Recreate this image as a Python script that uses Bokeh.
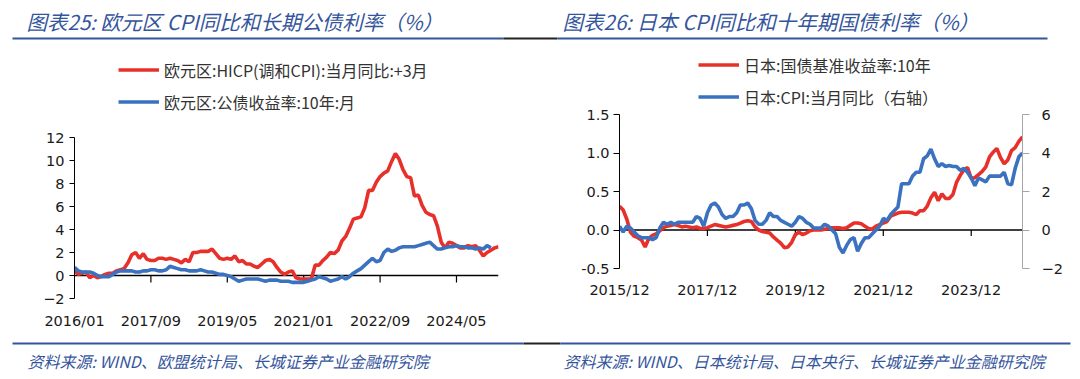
from bokeh.plotting import figure
from bokeh.models import Range1d, LinearAxis, FixedTicker, Span, Legend, LegendItem
from bokeh.layouts import column, row
from bokeh.core.properties import value
from bokeh.embed import file_html
from bokeh.resources import INLINE

RED = "#E8302A"
BLUE = "#3A72C0"
TITLE_BLUE = "#34559C"
CJK = "Noto Sans CJK SC"
NUM = "DejaVu Sans"

# ---------------- data: euro area (x index 0 = 2016/01) ----------------
eu_hicp_label = "欧元区:HICP(调和CPI):当月同比:+3月"
eu_yield_label = "欧元区:公债收益率:10年:月"
# HICP YoY, shifted +3 months (2015/10 ... 2025/01 plotted from 2016/01)
eu_hicp = [0.4, 0.1, 0.2,
           0.3, -0.2, 0.0, -0.2, -0.1, 0.1, 0.2, 0.2, 0.4, 0.5, 0.6, 1.1,
           1.8, 2.0, 1.5, 1.9, 1.4, 1.3, 1.3, 1.5, 1.5, 1.4, 1.5, 1.4,
           1.3, 1.1, 1.4, 1.2, 2.0, 2.0, 2.1, 2.1, 2.1, 2.3, 1.9, 1.5,
           1.4, 1.5, 1.4, 1.7, 1.2, 1.3, 1.0, 1.0, 0.8, 0.7, 1.0, 1.3,
           1.4, 1.2, 0.7, 0.3, 0.1, 0.3, 0.4, -0.2, -0.3, -0.3, -0.3, -0.3,
           0.9, 0.9, 1.3, 1.6, 2.0, 1.9, 2.2, 3.0, 3.4, 4.1, 4.9, 5.0,
           5.1, 5.9, 7.4, 7.4, 8.1, 8.6, 8.9, 9.1, 9.9, 10.6, 10.1, 9.2,
           8.6, 8.5, 6.9, 7.0, 6.1, 5.5, 5.3, 5.2, 4.3, 2.9, 2.4, 2.9,
           2.8, 2.6, 2.4, 2.4, 2.6, 2.5, 2.6, 2.2, 1.7, 2.0, 2.2, 2.4,
           2.5]
# 10Y government bond yield, 2016/01 ... 2025/02
eu_yield = [0.7, 0.4, 0.3, 0.3, 0.3, 0.2, 0.0, -0.1, -0.1, -0.1, 0.1, 0.3,
            0.4, 0.4, 0.4, 0.4, 0.3, 0.3, 0.4, 0.4, 0.5, 0.5, 0.4, 0.4,
            0.5, 0.8, 0.7, 0.6, 0.5, 0.5, 0.4, 0.4, 0.4, 0.5, 0.4, 0.3,
            0.3, 0.2, 0.1, 0.1, 0.0, -0.1, -0.3, -0.5, -0.4, -0.3, -0.3, -0.3,
            -0.3, -0.4, -0.5, -0.4, -0.4, -0.4, -0.5, -0.5, -0.5, -0.6, -0.6, -0.6,
            -0.6, -0.5, -0.4, -0.3, -0.1, -0.2, -0.3, -0.5, -0.4, -0.3, -0.1, -0.3,
            -0.1, 0.2, 0.4, 0.6, 0.9, 1.2, 1.5, 1.2, 1.3, 2.0, 2.3, 2.1,
            2.2, 2.4, 2.5, 2.5, 2.5, 2.5, 2.6, 2.7, 2.8, 2.9, 2.6, 2.3,
            2.3, 2.4, 2.5, 2.5, 2.6, 2.5, 2.5, 2.4, 2.4, 2.3, 2.4, 2.3,
            2.6, 2.4]
eu_tick_idx = [0, 20, 40, 60, 80, 100]
eu_tick_labels = ["2016/01", "2017/09", "2019/05", "2021/01", "2022/09", "2024/05"]
eu_y_ticks = [-2, 0, 2, 4, 6, 8, 10, 12]

# ---------------- data: Japan (x index 0 = 2015/12) ----------------
jp_yield_label = "日本:国债基准收益率:10年"
jp_cpi_label = "日本:CPI:当月同比（右轴）"
jp_yield = [0.31, 0.26, 0.14, -0.03, -0.08, -0.10, -0.13, -0.22, -0.11, -0.07, -0.05, -0.01,
            0.03, 0.05, 0.06, 0.07, 0.06, 0.04, 0.05, 0.04, 0.03, 0.04, 0.02, 0.02,
            0.03, 0.05, 0.07, 0.06, 0.05, 0.04, 0.05, 0.06, 0.07, 0.09, 0.11, 0.12,
            0.11, 0.04, 0.00, -0.02, -0.03, -0.04, -0.09, -0.13, -0.17, -0.23, -0.22, -0.16,
            -0.06, -0.03, -0.06, -0.04, -0.01, 0.00, 0.00, 0.00, 0.01, 0.02, 0.03, 0.03,
            0.03, 0.02, 0.03, 0.06, 0.09, 0.09, 0.08, 0.05, 0.02, 0.01, 0.05, 0.07,
            0.09, 0.11, 0.18, 0.20, 0.22, 0.23, 0.23, 0.23, 0.22, 0.20, 0.25, 0.25,
            0.31, 0.42, 0.49, 0.38, 0.47, 0.41, 0.41, 0.46, 0.62, 0.71, 0.78, 0.81,
            0.67, 0.68, 0.72, 0.76, 0.82, 0.95, 1.01, 1.06, 0.94, 0.86, 0.91, 1.03,
            1.07, 1.15, 1.21]
jp_cpi = [0.2, -0.1, 0.2, 0.1, -0.1, -0.3, -0.4, -0.4, -0.4, -0.5, -0.4, 0.1,
          0.4, 0.3, 0.4, 0.3, 0.4, 0.4, 0.4, 0.4, 0.4, 0.7, 0.6, 0.2,
          0.9, 1.3, 1.4, 1.2, 0.8, 0.6, 0.7, 0.7, 0.9, 1.3, 1.3, 1.4,
          1.1, 0.5, 0.3, 0.3, 0.5, 0.9, 0.7, 0.7, 0.5, 0.4, 0.3, 0.2,
          0.4, 0.7, 0.6, 0.4, 0.3, 0.1, 0.1, 0.1, 0.3, 0.2, 0.0, -0.2,
          -0.9, -1.2, -0.8, -0.5, -0.4, -1.1, -0.7, -0.4, -0.4, -0.2, 0.0, 0.2,
          0.6, 0.5, 0.8, 1.0, 1.2, 2.4, 2.4, 2.4, 2.8, 3.0, 3.0, 3.7,
          3.85, 4.2, 3.7, 3.3, 3.45, 3.3, 3.35, 3.3, 3.3, 3.1, 3.2, 3.0,
          2.7, 2.3, 2.7, 2.6, 2.5, 2.8, 2.8, 2.8, 2.8, 3.0, 2.4, 2.35,
          3.2, 3.8, 4.0]
jp_tick_idx = [0, 24, 48, 72, 96]
jp_tick_labels = ["2015/12", "2017/12", "2019/12", "2021/12", "2023/12"]
jp_y_ticks = [-0.5, 0.0, 0.5, 1.0, 1.5]
jp_y_labels = ["-0.5", "0.0", "0.5", "1.0", "1.5"]
jp_y2_ticks = [-2, 0, 2, 4, 6]

titles = ["图表25:  欧元区 CPI同比和长期公债利率（%）", "图表26:  日本 CPI同比和十年期国债利率（%）"]
sources = ["资料来源:  WIND、欧盟统计局、长城证券产业金融研究院",
           "资料来源:  WIND、日本统计局、日本央行、长城证券产业金融研究院"]

W = 1080


def blank(h):
    f = figure(width=W, height=h, x_range=Range1d(0, W), y_range=Range1d(h, 0),
               output_backend="svg", toolbar_location=None, min_border=0,
               x_axis_location=None, y_axis_location=None)
    f.grid.visible = False
    f.outline_line_color = None
    return f


# header (page y 0..48)
hdr = blank(48)
hdr.text(x=[26, 562], y=[20, 20], text=titles, text_font=value(CJK), text_font_style="italic",
         text_font_size="20.5px", text_color=TITLE_BLUE, text_baseline="middle")
hdr.segment(x0=[12, 503, 557], y0=[38, 38, 38], x1=[503, 557, 1047], y1=[38, 38, 38],
            line_color=[TITLE_BLUE, "#222222", TITLE_BLUE], line_width=2)

# footer (page y 338..379)
ftr = blank(41)
ftr.segment(x0=[12, 523, 560], y0=[5, 5, 5], x1=[523, 560, 1070], y1=[5, 5, 5],
            line_color=[TITLE_BLUE, "#222222", TITLE_BLUE], line_width=2)
ftr.text(x=[27, 563], y=[22, 22], text=sources, text_font=value(CJK), text_font_style="italic",
         text_font_size="16px", text_color=TITLE_BLUE, text_baseline="middle")


def style_axes(p, xt, xl, xstand):
    p.xgrid.visible = False
    p.ygrid.visible = False
    p.outline_line_color = None
    p.xaxis.ticker = FixedTicker(ticks=xt)
    p.xaxis.major_label_overrides = dict(zip(xt, xl))
    p.xaxis.axis_line_color = None
    p.xaxis.major_tick_line_color = None
    p.xaxis.minor_tick_line_color = None
    p.xaxis.major_tick_out = 0
    p.xaxis.major_label_standoff = xstand
    p.axis.major_label_text_font = NUM
    p.axis.major_label_text_font_size = "14.5px"
    p.axis.major_label_text_color = "#1a1a1a"
    p.yaxis.minor_tick_line_color = None
    p.yaxis.major_tick_in = 0
    p.yaxis.axis_line_color = "black"
    p.yaxis.major_tick_line_color = "black"


ITEM_H, ITEM_GAP = 23, 8


def legend(p, items, loc):
    lg = Legend(items=items, location=loc, orientation="vertical",
                label_text_font=CJK, label_text_font_size="16px", label_text_color="#333333",
                glyph_width=41, glyph_height=ITEM_H, label_height=ITEM_H, spacing=ITEM_GAP,
                label_standoff=5, padding=0, margin=0,
                border_line_alpha=0, background_fill_alpha=0)
    p.add_layout(lg, "center")


# both frames share page y 50..298 (a row aligns the frames)
TOP, BOT = 50, 298
FIG_TOP, FIG_BOT = 48, 338


def span_range(lo, hi, px_lo, px_hi):
    # range covering the whole frame, given that [lo, hi] spans page y px_lo..px_hi
    per_px = (hi - lo) / (px_lo - px_hi)
    return Range1d(lo - (BOT - px_lo) * per_px, hi + (px_hi - TOP) * per_px)


def legend_y(last_item_center):
    return BOT - (last_item_center + ITEM_H / 2)


# left chart: frame page x 74..498 ; axis -2..12 spans page y 298..137
eu_lo, eu_hi = eu_y_ticks[0], eu_y_ticks[-1]
pl = figure(width=540, height=FIG_BOT - FIG_TOP, x_range=Range1d(0, len(eu_hicp) - 1),
            y_range=span_range(eu_lo, eu_hi, 298, 137),
            output_backend="svg", toolbar_location=None,
            min_border_left=74, min_border_right=42, min_border_top=TOP - FIG_TOP, min_border_bottom=FIG_BOT - BOT)
style_axes(pl, eu_tick_idx, eu_tick_labels, 14)
pl.yaxis.ticker = FixedTicker(ticks=eu_y_ticks)
pl.yaxis.bounds = (eu_lo, eu_hi)
pl.yaxis.major_tick_out = 5
pl.yaxis.major_label_standoff = 5
pl.add_layout(Span(location=0, dimension="width", line_color="black", line_width=1.3, level="underlay"))
pl.ray(x=eu_tick_idx[1:], y=[0] * len(eu_tick_idx[1:]), length=7, length_units="screen",
       angle=-90, angle_units="deg", line_color="black", line_width=1.2)
r1 = pl.line(list(range(len(eu_hicp))), eu_hicp, line_color=RED, line_width=3.6)
r2 = pl.line(list(range(len(eu_yield))), eu_yield, line_color=BLUE, line_width=3.6)
legend(pl, [LegendItem(label=eu_hicp_label, renderers=[r1]),
            LegendItem(label=eu_yield_label, renderers=[r2])], (44, legend_y(102)))

# right chart: frame page x 619..1022 ; axis -0.5..1.5 spans page y 268..114
jp_lo, jp_hi = jp_y_ticks[0], jp_y_ticks[-1]
jp2_lo, jp2_hi = jp_y2_ticks[0], jp_y2_ticks[-1]
pr = figure(width=540, height=FIG_BOT - FIG_TOP, x_range=Range1d(0, len(jp_yield) - 1),
            y_range=span_range(jp_lo, jp_hi, 268, 114),
            output_backend="svg", toolbar_location=None,
            min_border_left=79, min_border_right=58, min_border_top=TOP - FIG_TOP, min_border_bottom=FIG_BOT - BOT)
pr.extra_y_ranges = {"cpi": span_range(jp2_lo, jp2_hi, 268, 114)}
ax2 = LinearAxis(y_range_name="cpi", ticker=FixedTicker(ticks=jp_y2_ticks))
pr.add_layout(ax2, "right")
style_axes(pr, jp_tick_idx, jp_tick_labels, -17)
pr.yaxis[0].ticker = FixedTicker(ticks=jp_y_ticks)
pr.yaxis[0].major_label_overrides = dict(zip(jp_y_ticks, jp_y_labels))
pr.yaxis[0].bounds = (jp_lo, jp_hi)
pr.yaxis[0].major_tick_out = 6
pr.yaxis[0].major_label_standoff = 4
ax2.bounds = (jp2_lo, jp2_hi)
ax2.axis_line_color = "#A6A6A6"
ax2.major_tick_line_color = "#A6A6A6"
ax2.major_tick_out = 7
ax2.major_label_standoff = 12
pr.add_layout(Span(location=0, dimension="width", line_color="black", line_width=1.3, level="underlay"))
pr.ray(x=jp_tick_idx[1:], y=[0] * len(jp_tick_idx[1:]), length=6, length_units="screen",
       angle=-90, angle_units="deg", line_color="black", line_width=1.2)
r3 = pr.line(list(range(len(jp_yield))), jp_yield, line_color=RED, line_width=3.6)
r4 = pr.line(list(range(len(jp_cpi))), jp_cpi, line_color=BLUE, line_width=3.6, y_range_name="cpi")
legend(pr, [LegendItem(label=jp_yield_label, renderers=[r3]),
            LegendItem(label=jp_cpi_label, renderers=[r4])], (79, legend_y(97)))

page = column(hdr, row(pl, pr), ftr)
open("out.html", "w").write(file_html(page, INLINE))
